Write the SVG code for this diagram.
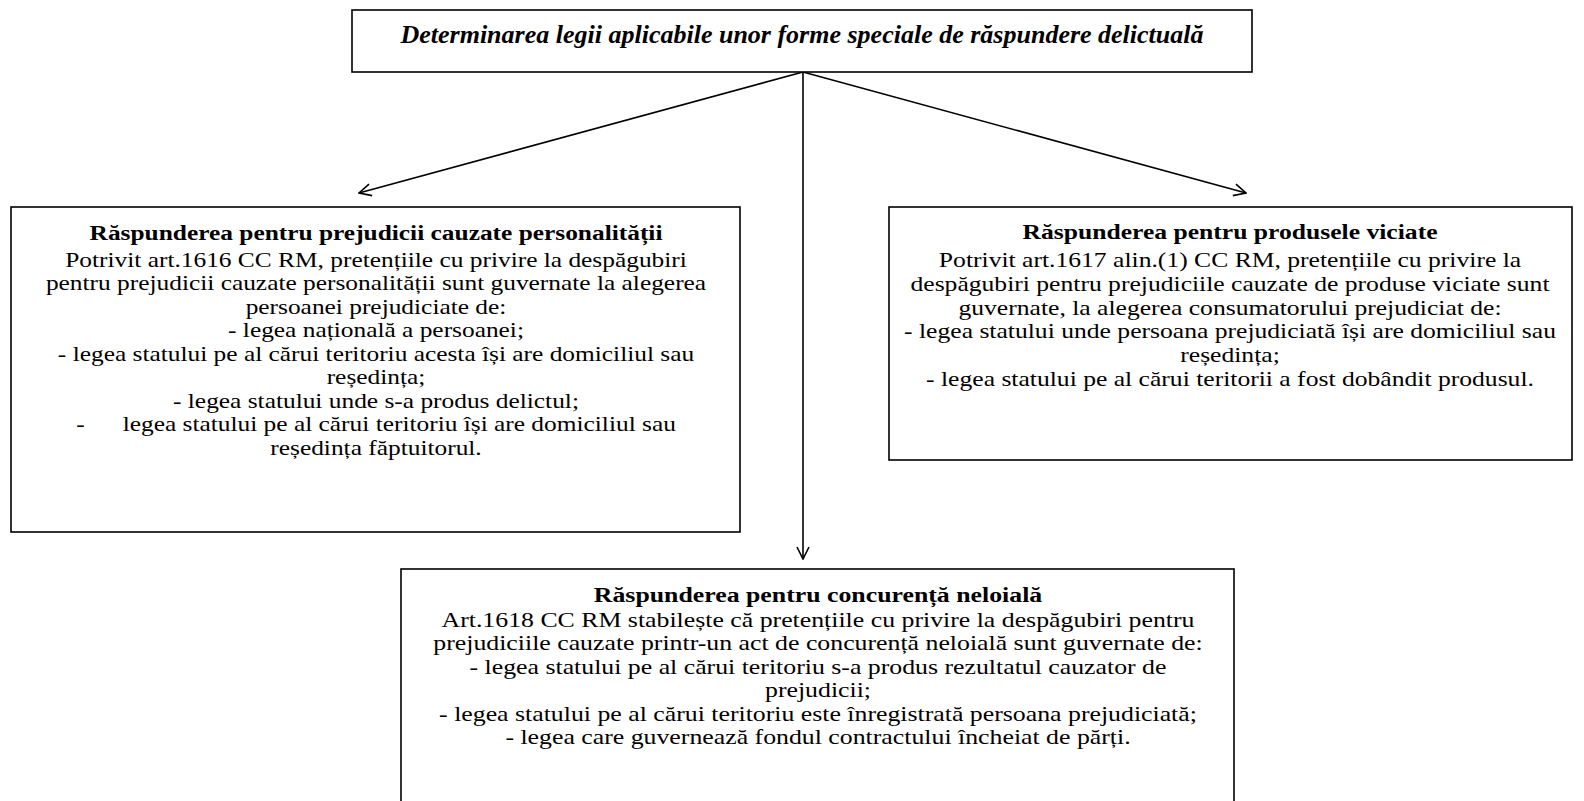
<svg xmlns="http://www.w3.org/2000/svg" width="1584" height="801" viewBox="0 0 1584 801">
<style>
.box{fill:#fff;stroke:#000;stroke-width:1.6}
.t{font-family:"Liberation Serif","Times New Roman",serif;font-size:21.2px;fill:#000;text-anchor:middle}
.b{font-weight:bold}
.bi{font-weight:bold;font-style:italic}
.conn{stroke:#000;stroke-width:1.6;fill:none}
</style>
<defs>
<marker id="arr" viewBox="0 0 14 14" refX="13" refY="7" markerWidth="14" markerHeight="14" markerUnits="userSpaceOnUse" orient="auto">
<path d="M1,1 L13,7 L1,13" fill="none" stroke="#000" stroke-width="1.6"/>
</marker>
</defs>
<rect width="1584" height="801" fill="#fff"/>
<g id="connectors">
<line class="conn" x1="803" y1="72" x2="359" y2="193" marker-end="url(#arr)"/>
<line class="conn" x1="803" y1="72" x2="1246" y2="193" marker-end="url(#arr)"/>
<line class="conn" x1="803" y1="72" x2="803" y2="559" marker-end="url(#arr)"/>
</g>
<g id="top">
<rect class="box" x="352" y="10" width="900" height="62"/>
<text class="t bi" x="802" y="43" style="font-size:26px">Determinarea legii aplicabile unor forme speciale de răspundere delictuală</text>
</g>
<g id="left">
<rect class="box" x="11" y="207" width="729" height="325"/>
<g transform="translate(376,0) scale(1.198,1)">
<text class="t b" x="0" y="240">Răspunderea pentru prejudicii cauzate personalității</text>
<text class="t" x="0" y="267">Potrivit art.1616 CC RM, pretențiile cu privire la despăgubiri</text>
<text class="t" x="0" y="290.5">pentru prejudicii cauzate personalității sunt guvernate la alegerea</text>
<text class="t" x="0" y="314">persoanei prejudiciate de:</text>
<text class="t" x="0" y="337.5">- legea națională a persoanei;</text>
<text class="t" x="0" y="361">- legea statului pe al cărui teritoriu acesta își are domiciliul sau</text>
<text class="t" x="0" y="384.5">reședința;</text>
<text class="t" x="0" y="408">- legea statului unde s-a produs delictul;</text>
<text class="t" x="0" y="431.5" style="white-space:pre">-      legea statului pe al cărui teritoriu își are domiciliul sau</text>
<text class="t" x="0" y="455">reședința făptuitorul.</text>
</g>
</g>
<g id="right">
<rect class="box" x="889" y="207" width="683" height="253"/>
<g transform="translate(1230,0) scale(1.208,1)">
<text class="t b" x="0" y="239">Răspunderea pentru produsele viciate</text>
<text class="t" x="0" y="267">Potrivit art.1617 alin.(1) CC RM, pretențiile cu privire la</text>
<text class="t" x="0" y="290.8">despăgubiri pentru prejudiciile cauzate de produse viciate sunt</text>
<text class="t" x="0" y="314.6">guvernate, la alegerea consumatorului prejudiciat de:</text>
<text class="t" x="0" y="338.4">- legea statului unde persoana prejudiciată își are domiciliul sau</text>
<text class="t" x="0" y="362.2">reședința;</text>
<text class="t" x="0" y="386">- legea statului pe al cărui teritorii a fost dobândit produsul.</text>
</g>
</g>
<g id="bottom">
<rect class="box" x="401" y="569" width="833" height="240"/>
<g transform="translate(818,0) scale(1.217,1)">
<text class="t b" x="0" y="602">Răspunderea pentru concurență neloială</text>
<text class="t" x="0" y="627">Art.1618 CC RM stabilește că pretențiile cu privire la despăgubiri pentru</text>
<text class="t" x="0" y="650.5">prejudiciile cauzate printr-un act de concurență neloială sunt guvernate de:</text>
<text class="t" x="0" y="674">- legea statului pe al cărui teritoriu s-a produs rezultatul cauzator de</text>
<text class="t" x="0" y="697.5">prejudicii;</text>
<text class="t" x="0" y="721">- legea statului pe al cărui teritoriu este înregistrată persoana prejudiciată;</text>
<text class="t" x="0" y="744.5">- legea care guvernează fondul contractului încheiat de părți.</text>
</g>
</g>
</svg>
